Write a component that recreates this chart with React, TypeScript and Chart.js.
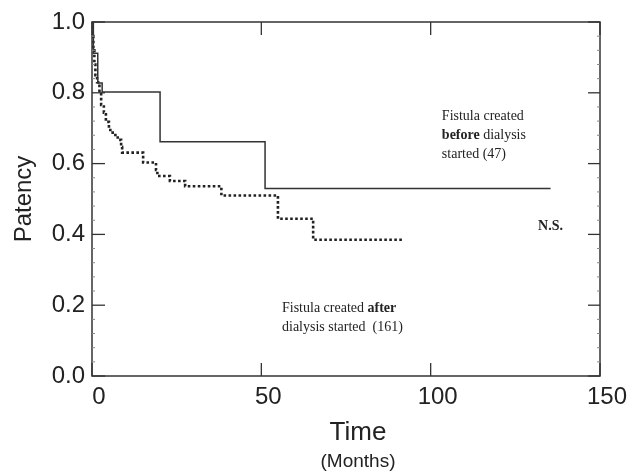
import React, { useEffect, useRef } from "react";
import { Chart, registerables } from "chart.js";

Chart.register(...registerables);

// Kaplan–Meier style step data (months, patency)
const beforeTimes = [0, 0.4, 1.7, 3.0, 20.1, 51.1, 135.4];
const beforeSurv = [1.0, 0.912, 0.828, 0.802, 0.662, 0.53, 0.53];

const afterTimes = [
  0, 0.2, 0.4, 0.7, 1.0, 1.5, 2.2, 2.7, 3.5, 4.1, 5.0, 6.1, 7.6, 8.6, 8.9,
  15.1, 18.9, 19.3, 23.0, 27.5, 38.2, 54.9, 65.3, 91.8,
];
const afterSurv = [
  1.0, 0.96, 0.92, 0.88, 0.85, 0.83, 0.8, 0.766, 0.744, 0.718, 0.695, 0.681,
  0.667, 0.647, 0.631, 0.603, 0.582, 0.565, 0.551, 0.536, 0.51, 0.444, 0.385,
  0.385,
];

const xTicks = [0, 50, 100, 150];
const yTicks = [0, 0.2, 0.4, 0.6, 0.8, 1.0];
const xTitle = "Time";
const xSubtitle = "(Months)";
const yTitle = "Patency";

// annotation lines: segments of [text, bold]
const beforeLabel: [string, boolean][][] = [
  [["Fistula created", false]],
  [["before", true], [" dialysis", false]],
  [["started (47)", false]],
];
const afterLabel: [string, boolean][][] = [
  [["Fistula created ", false], ["after", true]],
  [["dialysis started  (161)", false]],
];
const nsLabel = "N.S.";

const INK = "#222";
const SANS = "'Liberation Sans', Arial, sans-serif";
const SERIF = "'Liberation Serif', 'Times New Roman', serif";

function drawSegments(ctx: CanvasRenderingContext2D, segs: [string, boolean][], x: number, y: number) {
  let cx = x;
  for (const [t, b] of segs) {
    ctx.font = `${b ? "bold " : ""}14px ${SERIF}`;
    ctx.fillText(t, cx, y);
    cx += ctx.measureText(t).width;
  }
}

const framePlugin = {
  id: "frameAndText",
  afterDraw(chart: any) {
    const { ctx, chartArea: a, scales } = chart;
    const x = scales.x;
    const y = scales.y;
    ctx.save();
    ctx.strokeStyle = "#333";
    ctx.lineWidth = 1.5;
    ctx.strokeRect(a.left, a.top, a.right - a.left, a.bottom - a.top);
    const line = (x1: number, y1: number, x2: number, y2: number) => {
      ctx.beginPath();
      ctx.moveTo(x1, y1);
      ctx.lineTo(x2, y2);
      ctx.stroke();
    };
    ctx.lineWidth = 1.3;
    for (const v of yTicks) {
      const py = y.getPixelForValue(v);
      line(a.left, py, a.left + 13, py);
      line(a.right - 12, py, a.right, py);
    }
    for (const v of xTicks) {
      const px = x.getPixelForValue(v);
      line(px, a.bottom, px, a.bottom - 13);
      line(px, a.top, px, a.top + 13);
    }
    // minor ticks on the left axis
    ctx.strokeStyle = "#888";
    ctx.lineWidth = 1;
    for (let i = 0; i <= 25; i++) {
      if (i % 5 === 0) continue;
      const py = y.getPixelForValue(i * 0.04);
      line(a.left, py, a.left + 3, py);
      line(a.right - 3, py, a.right, py);
    }

    // axis title (x) drawn as two lines of different sizes
    ctx.fillStyle = INK;
    ctx.textAlign = "center";
    ctx.textBaseline = "alphabetic";
    const cx = (a.left + a.right) / 2 + 12;
    ctx.font = `26px ${SANS}`;
    ctx.fillText(xTitle, cx, a.bottom + 64);
    ctx.font = `19px ${SANS}`;
    ctx.fillText(xSubtitle, cx, a.bottom + 91);

    // annotations
    ctx.textAlign = "left";
    let bx = x.getPixelForValue(103.3);
    let by = y.getPixelForValue(0.724);
    beforeLabel.forEach((segs, i) => drawSegments(ctx, segs, bx, by + i * 19));
    let ax = x.getPixelForValue(56.1);
    let ay = y.getPixelForValue(0.181);
    afterLabel.forEach((segs, i) => drawSegments(ctx, segs, ax, ay + i * 19));
    ctx.font = `bold 14px ${SERIF}`;
    ctx.fillText(nsLabel, x.getPixelForValue(131.7), y.getPixelForValue(0.413));
    ctx.restore();
  },
};

export default function App() {
  const ref = useRef<HTMLCanvasElement>(null);
  useEffect(() => {
    if (!ref.current) return;
    const chart = new Chart(ref.current, {
      type: "line",
      data: {
        datasets: [
          {
            label: "before",
            data: beforeTimes.map((t, i) => ({ x: t, y: beforeSurv[i] })),
            borderColor: "#333",
            borderWidth: 1.5,
            stepped: "before",
            pointRadius: 0,
            fill: false,
          },
          {
            label: "after",
            data: afterTimes.map((t, i) => ({ x: t, y: afterSurv[i] })),
            borderColor: "#222",
            borderWidth: 2.6,
            borderDash: [2.6, 2.4],
            borderCapStyle: "butt",
            stepped: "before",
            pointRadius: 0,
            fill: false,
          },
        ],
      },
      options: {
        responsive: false,
        animation: false,
        devicePixelRatio: 1,
        layout: { padding: { left: 0, top: 22, right: 36, bottom: 0 } },
        plugins: { legend: { display: false }, tooltip: { enabled: false } },
        scales: {
          x: {
            type: "linear",
            min: 0,
            max: 150,
            afterFit: (s: any) => {
              s.height = 96;
            },
            afterBuildTicks: (s: any) => {
              s.ticks = xTicks.map((v) => ({ value: v }));
            },
            grid: { display: false, drawTicks: false },
            border: { display: false },
            ticks: {
              padding: 7,
              labelOffset: 7,
              maxRotation: 0,
              color: INK,
              font: { family: SANS, size: 24 },
            },
          },
          y: {
            min: 0,
            max: 1,
            afterFit: (s: any) => {
              s.width = 92;
            },
            afterBuildTicks: (s: any) => {
              s.ticks = yTicks.map((v) => ({ value: v }));
            },
            grid: { display: false, drawTicks: false },
            border: { display: false },
            ticks: {
              padding: 7,
              color: INK,
              font: { family: SANS, size: 24 },
              callback: (v: any) => Number(v).toFixed(1),
            },
            title: {
              display: true,
              text: yTitle,
              color: INK,
              font: { family: SANS, size: 24 },
              padding: { top: 10, bottom: 0 },
            },
          },
        },
      },
      plugins: [framePlugin],
    });
    return () => chart.destroy();
  }, []);
  return (
    <div style={{ position: "fixed", left: 0, top: 0, width: 636, height: 472, background: "#fff" }}>
      <canvas ref={ref} width={636} height={472} />
    </div>
  );
}
